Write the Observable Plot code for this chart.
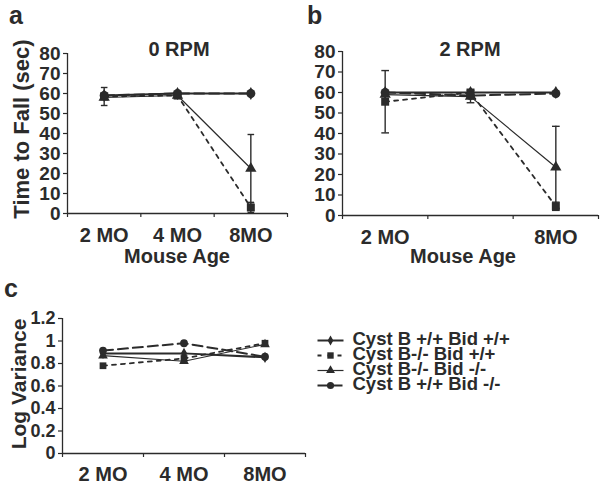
<!DOCTYPE html>
<html>
<head>
<meta charset="utf-8">
<script src="https://cdn.jsdelivr.net/npm/d3@7"></script>
<script src="https://cdn.jsdelivr.net/npm/@observablehq/plot@0.6"></script>
<style>
  body { margin: 0; background: #fff; }
  #root { position: relative; width: 600px; height: 485px; overflow: hidden; background: #fff; }
  #root > svg { position: absolute; overflow: visible; }
</style>
</head>
<body>
<div id="root"></div>
<script>
// ---------- data ----------
const ages = ["2 MO", "4 MO", "8MO"];
const series = ["Cyst B +/+ Bid +/+", "Cyst B-/- Bid +/+", "Cyst B-/- Bid -/-", "Cyst B +/+ Bid -/-"];
const symbols = ["diamond", "square", "triangle", "circle"];

// Time to fall (sec), 0 RPM — rows follow `series`, columns follow `ages`
const rpm0Values = [[59, 60, 60], [58.5, 59, 3], [58, 59, 22.5], [59, 60, 60]];
const rpm0Errors = [[0, 0, 0], [4.5, 1.5, 2.5], [0, 1, 17], [0, 0, 0]];
// Time to fall (sec), 2 RPM
const rpm2Values = [[60, 60, 60], [55.5, 60, 4.5], [59, 58, 23.5], [60, 58.5, 59.5]];
const rpm2Errors = [[0, 0, 0], [15.2, 0, 2], [0, 3, 20], [0, 0, 0]];
// Log variance
const logVarValues = [[0.89, 0.89, 0.855], [0.78, 0.845, 0.98], [0.87, 0.82, 0.97], [0.915, 0.98, 0.86]];

const timeTicks = [0, 10, 20, 30, 40, 50, 60, 70, 80];
const timeTickLabels = ["0", "10", "20", "30", "40", "50", "60", "70", "80"];
const varTicks = [0, 0.2, 0.4, 0.6, 0.8, 1, 1.2];
const varTickLabels = ["0", "0.2", "0.4", "0.6", "0.8", "1", "1.2"];

// ---------- styles ----------
const INK = "#2b2b2b";
const FONT = "'Liberation Sans', Arial, Helvetica, sans-serif";
const dashes = ["none", "4,5", "none", "10,5"];
const lineWidths = [2, 1.8, 1.2, 2];
const root = document.getElementById("root");

function rowsOf(values, errors) {
  const rows = [];
  series.forEach((s, si) => ages.forEach((a, ai) => rows.push({
    s, si, ai, x: ai + 0.5, v: values[si][ai], e: errors ? errors[si][ai] : 0
  })));
  return rows;
}

function panel(opts) {
  const rows = rowsOf(opts.values, opts.errors);
  const err = rows.filter(d => d.e > 0);
  const cap = 0.045;
  const marks = [
    Plot.ruleY([0], {stroke: INK, strokeWidth: 1.3}),
    Plot.ruleX([0], {stroke: INK, strokeWidth: 1.3}),
    Plot.axisY({ticks: opts.yTicks, tickFormat: (d, i) => opts.yLabels[i], tickSize: 4, tickPadding: 3,
      fontSize: opts.yFont, label: null, strokeWidth: 1.2}),
    Plot.axisX({ticks: [0, 1, 2, 3], tickFormat: () => "", tickSize: 4, label: null, strokeWidth: 1.2}),
    Plot.axisX({ticks: opts.labelIdx.map(i => i + 0.5), tickFormat: d => ages[Math.floor(d)],
      tickSize: 0, tickPadding: opts.xPad, fontSize: 20, label: null})
  ];
  if (err.length) {
    marks.push(
      Plot.ruleX(err, {x: "x", y1: d => d.v - d.e, y2: d => d.v + d.e, stroke: INK, strokeWidth: 1.4}),
      Plot.link(err, {x1: d => d.x - cap, x2: d => d.x + cap, y1: d => d.v + d.e, y2: d => d.v + d.e, stroke: INK, strokeWidth: 1.4}),
      Plot.link(err, {x1: d => d.x - cap, x2: d => d.x + cap, y1: d => d.v - d.e, y2: d => d.v - d.e, stroke: INK, strokeWidth: 1.4})
    );
  }
  series.forEach((s, si) => {
    marks.push(Plot.line(rows.filter(d => d.si === si), {x: "x", y: "v", stroke: INK,
      strokeWidth: lineWidths[si], strokeDasharray: dashes[si]}));
  });
  series.forEach((s, si) => {
    marks.push(Plot.dot(rows.filter(d => d.si === si), {x: "x", y: "v", symbol: symbols[si],
      r: opts.radii[si], fill: INK, stroke: "none"}));
  });
  const svg = Plot.plot({
    width: opts.width, height: opts.height,
    marginLeft: opts.m[0], marginRight: opts.m[1], marginTop: opts.m[2], marginBottom: opts.m[3],
    x: {domain: [0, 3]},
    y: {domain: opts.yDomain},
    style: {fontFamily: FONT, fontWeight: "bold", color: INK, background: "transparent", overflow: "visible"},
    marks
  });
  svg.style.left = opts.left + "px";
  svg.style.top = opts.top + "px";
  root.appendChild(svg);
}

// panel a
panel({values: rpm0Values, errors: rpm0Errors, left: 0, top: 0, width: 300, height: 270,
  m: [67, 13, 53, 57], yDomain: [0, 80], yTicks: timeTicks, yLabels: timeTickLabels, yFont: 19,
  labelIdx: [0, 1, 2], xPad: 14, radii: [4, 4.5, 4.2, 4.5]});
// panel b
panel({values: rpm2Values, errors: rpm2Errors, left: 300, top: 0, width: 300, height: 270,
  m: [42, 2, 51, 55], yDomain: [0, 80], yTicks: timeTicks, yLabels: timeTickLabels, yFont: 19,
  labelIdx: [0, 2], xPad: 14, radii: [4, 4.5, 4.2, 4.5]});
// panel c
panel({values: logVarValues, errors: null, left: 0, top: 270, width: 310, height: 215,
  m: [62, 5, 48, 32], yDomain: [0, 1.2], yTicks: varTicks, yLabels: varTickLabels, yFont: 18,
  labelIdx: [0, 1, 2], xPad: 13, radii: [3.4, 3.8, 3.6, 3.9]});

// legend
(function legend() {
  const lm = [];
  const legRadii = [3, 3.6, 3.3, 3.6];
  series.forEach((s, si) => {
    lm.push(Plot.link([s], {x1: 0, x2: 1, y1: d => d, y2: d => d, stroke: INK,
      strokeWidth: lineWidths[si], strokeDasharray: si === 1 ? "4,6" : dashes[si]}));
    lm.push(Plot.dot([s], {x: 0.5, y: d => d, symbol: symbols[si], r: legRadii[si], fill: INK, stroke: "none"}));
  });
  lm.push(Plot.text(series, {x: 1, y: d => d, text: d => d, textAnchor: "start", dx: 9, dy: -1,
    fontSize: 18.5, fontWeight: "bold", fill: INK}));
  const svg = Plot.plot({
    width: 260, height: 90, margin: 0,
    x: {domain: [0, 1], range: [9, 35], axis: null},
    y: {type: "point", domain: series, range: [14, 74], axis: null},
    style: {fontFamily: FONT, fontWeight: "bold", color: INK, background: "transparent", overflow: "visible"},
    marks: lm
  });
  svg.style.left = "308px";
  svg.style.top = "318px";
  root.appendChild(svg);
})();

// annotations (panel letters, titles, axis titles)
const labels = [
  {t: "a", x: 9, y: 24, size: 25, anchor: "start"},
  {t: "b", x: 307, y: 24, size: 25, anchor: "start"},
  {t: "c", x: 4, y: 297, size: 25, anchor: "start"},
  {t: "0 RPM", x: 179, y: 56, size: 20, anchor: "middle"},
  {t: "2 RPM", x: 470, y: 56, size: 20, anchor: "middle"},
  {t: "Mouse Age", x: 177, y: 263, size: 20, anchor: "middle"},
  {t: "Mouse Age", x: 463, y: 263, size: 20, anchor: "middle"},
  {t: "Time to Fall (sec)", x: 29, y: 129, size: 22, anchor: "middle", rot: -90},
  {t: "Log Variance", x: 26, y: 384, size: 21, anchor: "middle", rot: -90}
];
const ov = d3.create("svg").attr("width", 600).attr("height", 485)
  .style("left", "0px").style("top", "0px").style("pointer-events", "none");
ov.selectAll("text").data(labels).join("text")
  .attr("transform", d => `translate(${d.x},${d.y})` + (d.rot ? ` rotate(${d.rot})` : ""))
  .attr("text-anchor", d => d.anchor)
  .attr("font-family", FONT).attr("font-weight", "bold")
  .attr("font-size", d => d.size).attr("fill", INK)
  .text(d => d.t);
root.appendChild(ov.node());
</script>
</body>
</html>
